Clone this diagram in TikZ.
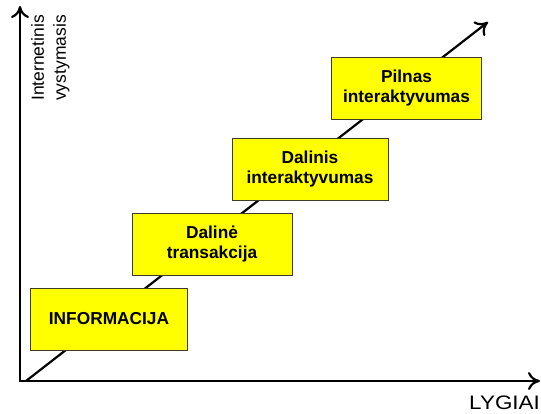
\documentclass[tikz,border=0pt]{standalone}
\usepackage{fontspec}
\setmainfont{Liberation Sans}
\usetikzlibrary{arrows.meta}
\definecolor{stagefill}{RGB}{255,255,0}
\definecolor{stageedge}{RGB}{60,60,40}
\begin{document}
\begin{tikzpicture}[x=1pt,y=-1pt,
  barb/.tip={Computer Modern Rightarrow[length=12pt,width=18pt,line width=2.2pt]},
  axis/.style={line width=2.4pt, line join=miter},
  stage/.style={draw=stageedge, line width=0.8pt, fill=stagefill,
    minimum width=157pt, minimum height=62pt, inner sep=0pt, align=center,
    font=\fontsize{17.3}{20}\selectfont\bfseries},
  axislabel/.style={inner sep=0pt, font=\fontsize{17.5}{22}\selectfont}]
  \useasboundingbox (0,0) rectangle (541,414);

  % axes and the rising diagonal
  \coordinate (O) at (20,381);
  \coordinate (ytip) at (20,6);
  \coordinate (xtip) at (540,381);
  \coordinate (dstart) at (26,381);
  \coordinate (dtip) at (488,22);
  \draw[axis, barb-barb] (ytip) -- (O) -- (xtip);
  \draw[axis, line width=2.2pt, -barb] (dstart) -- (dtip);

  % stages
  \node[stage] (info) at (109,319) {INFORMACIJA};
  \node[stage, minimum width=160pt] (trans) at (212,244) {Dalinė\\transakcija};
  \node[stage, minimum width=156pt] (dalint) at (310,169) {Dalinis\\interaktyvumas};
  \node[stage, minimum width=150pt] (pilint) at (406.5,88) {Pilnas\\interaktyvumas};

  % axis labels
  \node[axislabel, font=\fontsize{19.5}{22}\selectfont, xscale=1.15, anchor=base west] (xlabel) at (469,409) {LYGIAI};
  \node[axislabel, rotate=90, anchor=north west, align=left] (ylabel) at (31,101)
    {Internetinis\\vystymasis};
\end{tikzpicture}
\end{document}
